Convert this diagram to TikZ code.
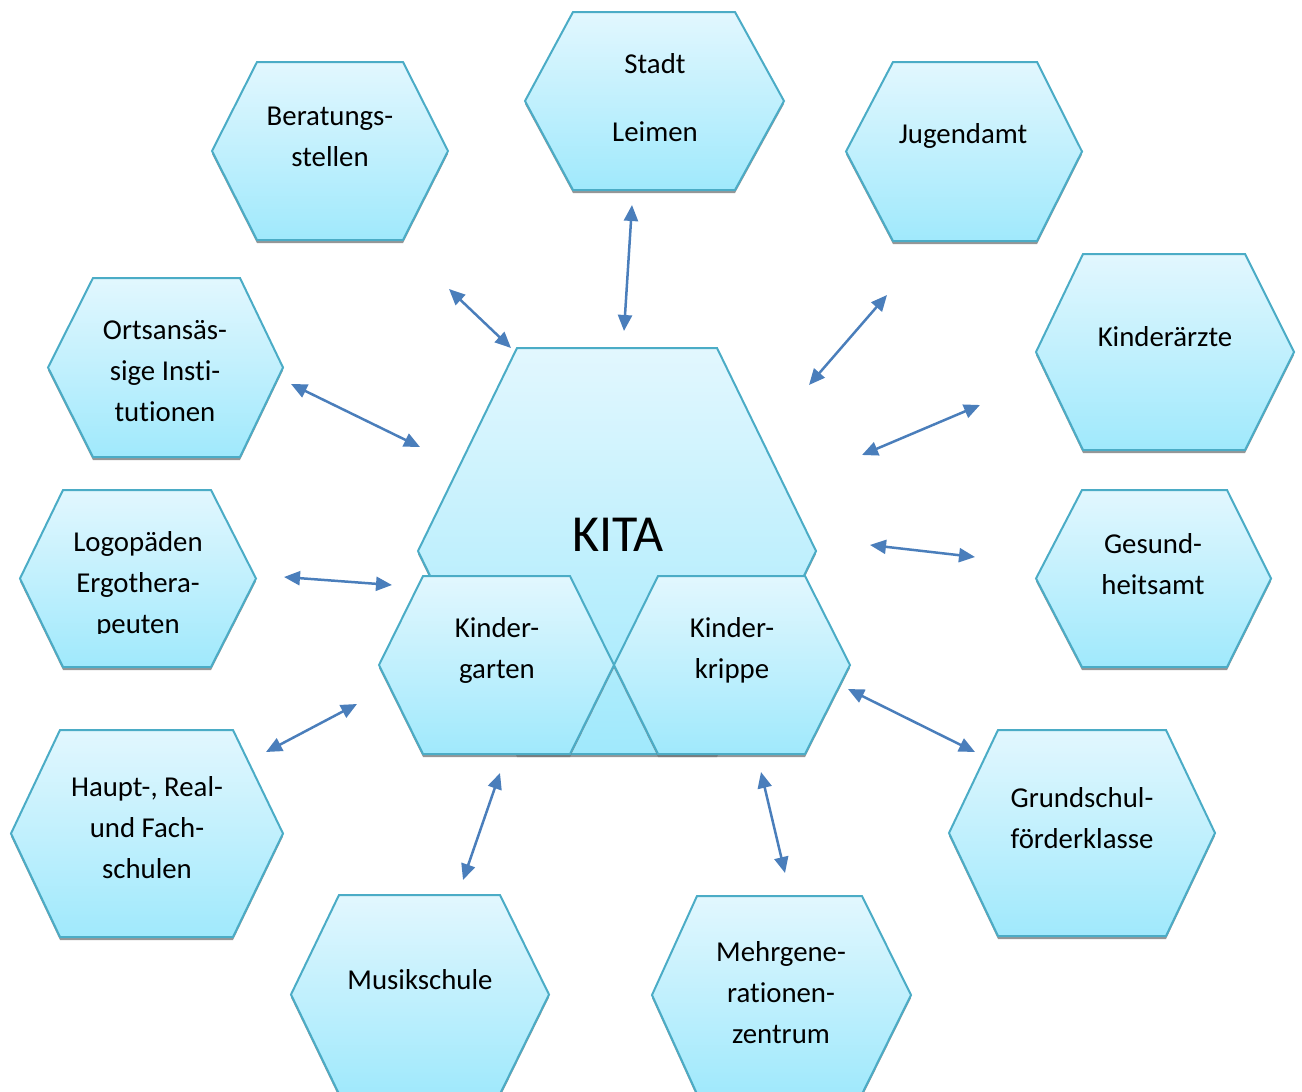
\documentclass[tikz,border=0pt]{standalone}
\usepackage{fontspec}
\setmainfont[Ligatures=NoCommon]{Carlito}
\usetikzlibrary{arrows.meta}
\definecolor{hexTop}{RGB}{226,247,254}
\definecolor{hexBot}{RGB}{160,233,252}
\definecolor{hexLine}{RGB}{75,172,198}
\definecolor{arrowBlue}{RGB}{74,126,187}
\tikzset{
  hexbody/.style={draw=hexLine, line width=2pt, top color=hexTop, bottom color=hexBot, line join=miter},
  hexshadow/.style={fill=black!55, opacity=0.75},
  lbl/.style={font=\fontsize{28.8}{41}\selectfont, align=center, text=black, inner sep=0pt},
  biglbl/.style={font=\fontsize{52}{60}\selectfont, text=black, inner sep=0pt},
  link/.style={draw=arrowBlue, line width=2.5pt, {Triangle[length=16pt,width=14pt]}-{Triangle[length=16pt,width=14pt]}},
}
\newcommand{\hexa}[6]{%
  \fill[hexshadow, shift={(0,3)}] (#1,{(#5+#6)/2}) -- (#2,#5) -- (#3,#5) -- (#4,{(#5+#6)/2}) -- (#3,#6) -- (#2,#6) -- cycle;
  \path[hexbody] (#1,{(#5+#6)/2}) -- (#2,#5) -- (#3,#5) -- (#4,{(#5+#6)/2}) -- (#3,#6) -- (#2,#6) -- cycle;
}
\begin{document}
\begin{tikzpicture}[x=1pt,y=-1pt]
\useasboundingbox (0,0) rectangle (1302,1092);
% outer hexagons
\hexa{212}{257}{403}{448}{62}{240}
\hexa{525}{573}{735}{784}{12}{190}
\hexa{846}{893}{1037}{1082}{62}{241}
\hexa{1036}{1083}{1245}{1294}{254}{450}
\hexa{48}{93}{240}{283}{278}{457}
\hexa{20}{63}{211}{256}{490}{667}
\hexa{1036}{1082}{1227}{1271}{490}{667}
\hexa{11}{60}{233}{283}{730}{937}
\hexa{949}{998}{1166}{1215}{730}{936}
\hexa{291}{339}{500}{549}{895}{1094}
\hexa{652}{697}{862}{911}{896}{1094}
% centre
\hexa{418}{517}{717}{816}{348}{754}
\hexa{379}{423}{570}{614}{576}{754}
\hexa{614}{658}{805}{850}{576}{754}
% labels
\node[lbl] (stadt) at (655,98) {Stadt\\[27pt]Leimen};
\node[lbl] (berat) at (330,137) {Beratungs-\\stellen};
\node[lbl] (jugend) at (963,136) {Jugendamt};
\node[lbl] (aerzte) at (1165,337) {Kinderärzte};
\node[lbl] (orts) at (165,371) {Ortsansäs-\\sige Insti-\\tutionen};
\node[biglbl] (kita) at (618,535) {KITA};
\begin{scope}
\clip (0,480) rectangle (300,633);
\node[lbl] (logo) at (138,585) {Logopäden\\Ergothera-\\peuten};
\end{scope}
\node[lbl] (gesund) at (1153,564) {Gesund-\\heitsamt};
\node[lbl] (kgarten) at (497,650) {Kinder-\\garten};
\node[lbl] (krippe) at (732,650) {Kinder-\\krippe};
\node[lbl] (haupt) at (147,828) {Haupt-, Real-\\und Fach-\\schulen};
\node[lbl] (grund) at (1082,818) {Grundschul-\\förderklasse};
\node[lbl] (musik) at (420,980) {Musikschule};
\node[lbl] (mehr) at (781,993) {Mehrgene-\\rationen-\\zentrum};
% arrow ends
\coordinate (a1) at (449,289); \coordinate (b1) at (511,348);
\coordinate (a2) at (632,205); \coordinate (b2) at (624,331);
\coordinate (a3) at (887,295); \coordinate (b3) at (809,385);
\coordinate (a4) at (980,405); \coordinate (b4) at (862,455);
\coordinate (a5) at (975,557); \coordinate (b5) at (870,545);
\coordinate (a6) at (975,752); \coordinate (b6) at (848,689);
\coordinate (a7) at (785,873); \coordinate (b7) at (761,772);
\coordinate (a8) at (463,880); \coordinate (b8) at (500,773);
\coordinate (a9) at (266,752); \coordinate (b9) at (357,704);
\coordinate (a10) at (284,577); \coordinate (b10) at (392,585);
\coordinate (a11) at (291,384); \coordinate (b11) at (420,447);
\foreach \i in {1,...,11} { \draw[link] (a\i) -- (b\i); }
\end{tikzpicture}
\end{document}
